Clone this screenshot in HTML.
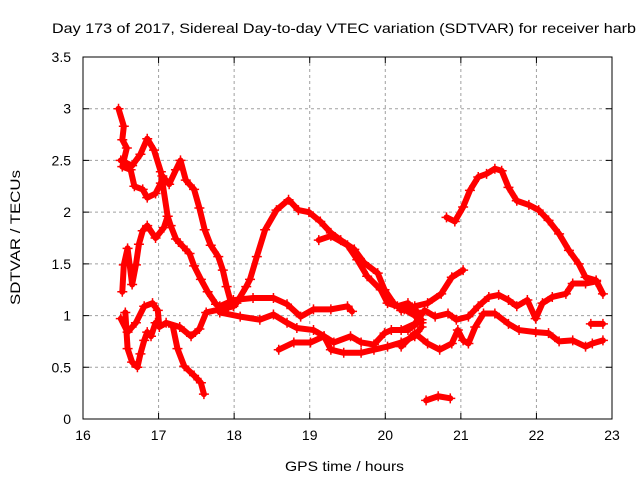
<!DOCTYPE html>
<html><head><meta charset="utf-8"><style>
body{margin:0;background:#fff}
svg{display:block;font-family:"Liberation Sans",sans-serif}
</style></head><body>
<svg id="chart" width="640" height="480" viewBox="0 0 640 480" xmlns="http://www.w3.org/2000/svg">
<rect width="640" height="480" fill="#fff"/>
<text x="52" y="33" font-size="14" textLength="584" lengthAdjust="spacingAndGlyphs" fill="#000">Day 173 of 2017, Sidereal Day-to-day VTEC variation (SDTVAR) for receiver harb</text>
<g id="grid"></g>
<g id="series"></g>
<rect x="83" y="57" width="529" height="362" fill="none" stroke="#000" stroke-width="1"/>
<g id="ticks"></g>
<text x="285" y="471" font-size="14" textLength="119" lengthAdjust="spacingAndGlyphs">GPS time / hours</text>
<text x="0" y="0" font-size="14" textLength="135" lengthAdjust="spacingAndGlyphs" transform="translate(20,305) rotate(-90)">SDTVAR / TECUs</text>
</svg>
<script>
const xTicks=[16,17,18,19,20,21,22,23];
const yTicks=[0,0.5,1,1.5,2,2.5,3,3.5];
const yTickLabels=["0","0.5","1","1.5","2","2.5","3","3.5"];
const traceA=[[16.47,3.0],[16.54,2.83],[16.52,2.7],[16.58,2.62],[16.52,2.44],[16.63,2.41],[16.68,2.25],[16.79,2.22],[16.85,2.14],[16.96,2.18],[17.03,2.28],[17.05,2.35],[17.14,2.27],[17.23,2.41],[17.29,2.5],[17.36,2.31],[17.47,2.22],[17.54,2.04],[17.61,1.83],[17.69,1.68],[17.79,1.57],[17.85,1.44],[17.9,1.28],[17.96,1.12]];
const traceB=[[16.5,2.5],[16.65,2.45],[16.76,2.56],[16.85,2.71],[16.94,2.6],[17.03,2.39],[17.12,1.96],[17.16,1.87],[17.23,1.74],[17.32,1.67],[17.41,1.6],[17.47,1.48],[17.56,1.35],[17.65,1.23],[17.76,1.11],[17.9,1.06]];
const traceC=[[16.52,1.23],[16.54,1.49],[16.59,1.65],[16.65,1.3],[16.7,1.49],[16.74,1.69],[16.79,1.82],[16.85,1.87],[16.96,1.75],[17.07,1.85],[17.12,1.96]];
const traceD=[[16.5,0.97],[16.59,0.84],[16.7,0.93],[16.81,1.09],[16.92,1.12],[16.99,1.05],[17.01,0.89],[17.1,0.93],[17.28,0.89],[17.43,0.8],[17.54,0.87],[17.63,1.03],[17.81,1.06],[17.99,1.09]];
const traceE=[[16.56,1.03],[16.59,0.68],[16.65,0.55],[16.72,0.5],[16.76,0.63],[16.81,0.76],[16.85,0.84],[16.9,0.8],[16.96,0.93]];
const traceF=[[17.19,0.89],[17.25,0.68],[17.34,0.51],[17.47,0.42],[17.56,0.35],[17.6,0.24]];
const traceG=[[18.03,1.12],[18.16,1.28],[18.21,1.35],[18.3,1.57],[18.41,1.83],[18.56,2.02],[18.72,2.12],[18.85,2.02],[18.99,2.0],[19.14,1.91],[19.28,1.8],[19.41,1.73],[19.59,1.64],[19.72,1.51],[19.9,1.41],[19.99,1.25],[20.12,1.11],[20.25,1.06],[20.39,1.0],[20.48,0.93]];
const traceG2=[[19.12,1.73],[19.28,1.77],[19.5,1.68],[19.63,1.54],[19.76,1.38],[19.94,1.25],[20.03,1.12],[20.16,1.09],[20.3,1.12],[20.43,1.03]];
const traceH=[[17.81,1.09],[17.99,1.15],[18.25,1.17],[18.52,1.17],[18.7,1.11],[18.88,0.99],[19.05,1.06],[19.28,1.06],[19.5,1.09],[19.56,1.04]];
const traceI=[[17.81,1.03],[18.08,0.99],[18.34,0.96],[18.52,1.01],[18.7,0.93],[18.83,0.88],[19.05,0.86],[19.19,0.8],[19.28,0.67],[19.45,0.64],[19.68,0.64],[19.85,0.67],[20.03,0.7],[20.21,0.74],[20.39,0.8],[20.48,0.89]];
const traceJ=[[18.59,0.67],[18.79,0.74],[19.01,0.74],[19.19,0.8],[19.32,0.74],[19.54,0.8],[19.68,0.74],[19.85,0.72],[19.99,0.83],[20.08,0.86],[20.3,0.86],[20.48,0.96]];
const traceK=[[20.81,1.95],[20.92,1.91],[21.03,2.05],[21.12,2.21],[21.23,2.34],[21.34,2.37],[21.45,2.42],[21.54,2.4],[21.63,2.24],[21.74,2.11],[21.9,2.07],[22.03,2.02],[22.16,1.92],[22.3,1.79],[22.43,1.63],[22.56,1.5],[22.65,1.37],[22.79,1.34],[22.88,1.21]];
const traceL=[[20.21,1.05],[20.39,1.09],[20.56,1.12],[20.74,1.21],[20.88,1.37],[21.03,1.44]];
const traceM=[[20.21,0.86],[20.39,0.92],[20.52,1.05],[20.66,0.99],[20.83,1.02],[20.94,0.96],[21.1,0.99],[21.23,1.09],[21.37,1.18],[21.5,1.2],[21.63,1.15],[21.74,1.09],[21.88,1.15],[21.99,0.97],[22.08,1.12],[22.21,1.18],[22.39,1.21],[22.48,1.31],[22.65,1.31],[22.79,1.33]];
const traceN=[[20.21,0.7],[20.39,0.83],[20.56,0.73],[20.72,0.67],[20.88,0.73],[20.96,0.86],[21.03,0.76],[21.1,0.73],[21.19,0.89],[21.3,1.02],[21.45,1.02],[21.63,0.92],[21.77,0.86],[21.99,0.84],[22.16,0.83],[22.3,0.75],[22.48,0.76],[22.65,0.7],[22.74,0.73],[22.88,0.76]];
const traceO=[[22.72,0.92],[22.88,0.92]];
const traceP=[[20.54,0.18],[20.7,0.22],[20.86,0.2]];
const traces=[traceA,traceB,traceC,traceD,traceE,traceF,traceG,traceG2,traceH,traceI,traceJ,traceK,traceL,traceM,traceN,traceO,traceP];

const NS="http://www.w3.org/2000/svg";
const X0=83,X1=612,Y0=419,Y1=57,TMIN=16,TMAX=23,VMIN=0,VMAX=3.5;
function sx(t){return X0+(t-TMIN)/(TMAX-TMIN)*(X1-X0);}
function sy(v){return Y0-(v-VMIN)/(VMAX-VMIN)*(Y0-Y1);}
function mk(tag,attrs){const e=document.createElementNS(NS,tag);for(const k in attrs)e.setAttribute(k,attrs[k]);return e;}
const grid=document.getElementById('grid'),ticks=document.getElementById('ticks'),ser=document.getElementById('series');
xTicks.forEach(t=>{
  const x=sx(t);
  if(t>TMIN&&t<TMAX){const g=mk('line',{x1:x,x2:x,y1:Y1,y2:Y0,stroke:'#a0a0a0','stroke-dasharray':'3,3'});
  
  
  grid.appendChild(g);}
  const tk=mk('path',{d:`M${x},${Y0}v-6M${x},${Y1}v6`,stroke:'#000'});
  
  
  ticks.appendChild(tk);
  const l=mk('text',{x:x,y:Y0+21,'font-size':'14','text-anchor':'middle'});
  l.textContent=String(t);
  
  
  ticks.appendChild(l);
});
yTicks.forEach((v,i)=>{
  const y=sy(v);
  if(v>VMIN&&v<VMAX){const g=mk('line',{x1:X0,x2:X1,y1:y,y2:y,stroke:'#a0a0a0','stroke-dasharray':'3,3'});
  
  
  grid.appendChild(g);}
  const tk=mk('path',{d:`M${X0},${y}h6M${X1},${y}h-6`,stroke:'#000'});
  
  
  ticks.appendChild(tk);
  const l=mk('text',{x:X0-12,y:y+5,'font-size':'14','text-anchor':'end'});
  l.textContent=yTickLabels[i];
  
  
  ticks.appendChild(l);
});
traces.forEach(tr=>{
  const g=mk('g',{});
  
  
  const pl=mk('polyline',{points:tr.map(p=>sx(p[0])+','+sy(p[1])).join(' '),fill:'none',stroke:'#ff0000','stroke-width':'6','stroke-linejoin':'round','stroke-linecap':'round'});
  
  
  g.appendChild(pl);
  tr.forEach(p=>{
    const x=sx(p[0]),y=sy(p[1]);
    const m=mk('path',{d:`M${x-5},${y}h10M${x},${y-5}v10`,stroke:'#ff0000','stroke-width':'1.5'});
    
    
    g.appendChild(m);
  });
  ser.appendChild(g);
});
</script>
</body></html>
